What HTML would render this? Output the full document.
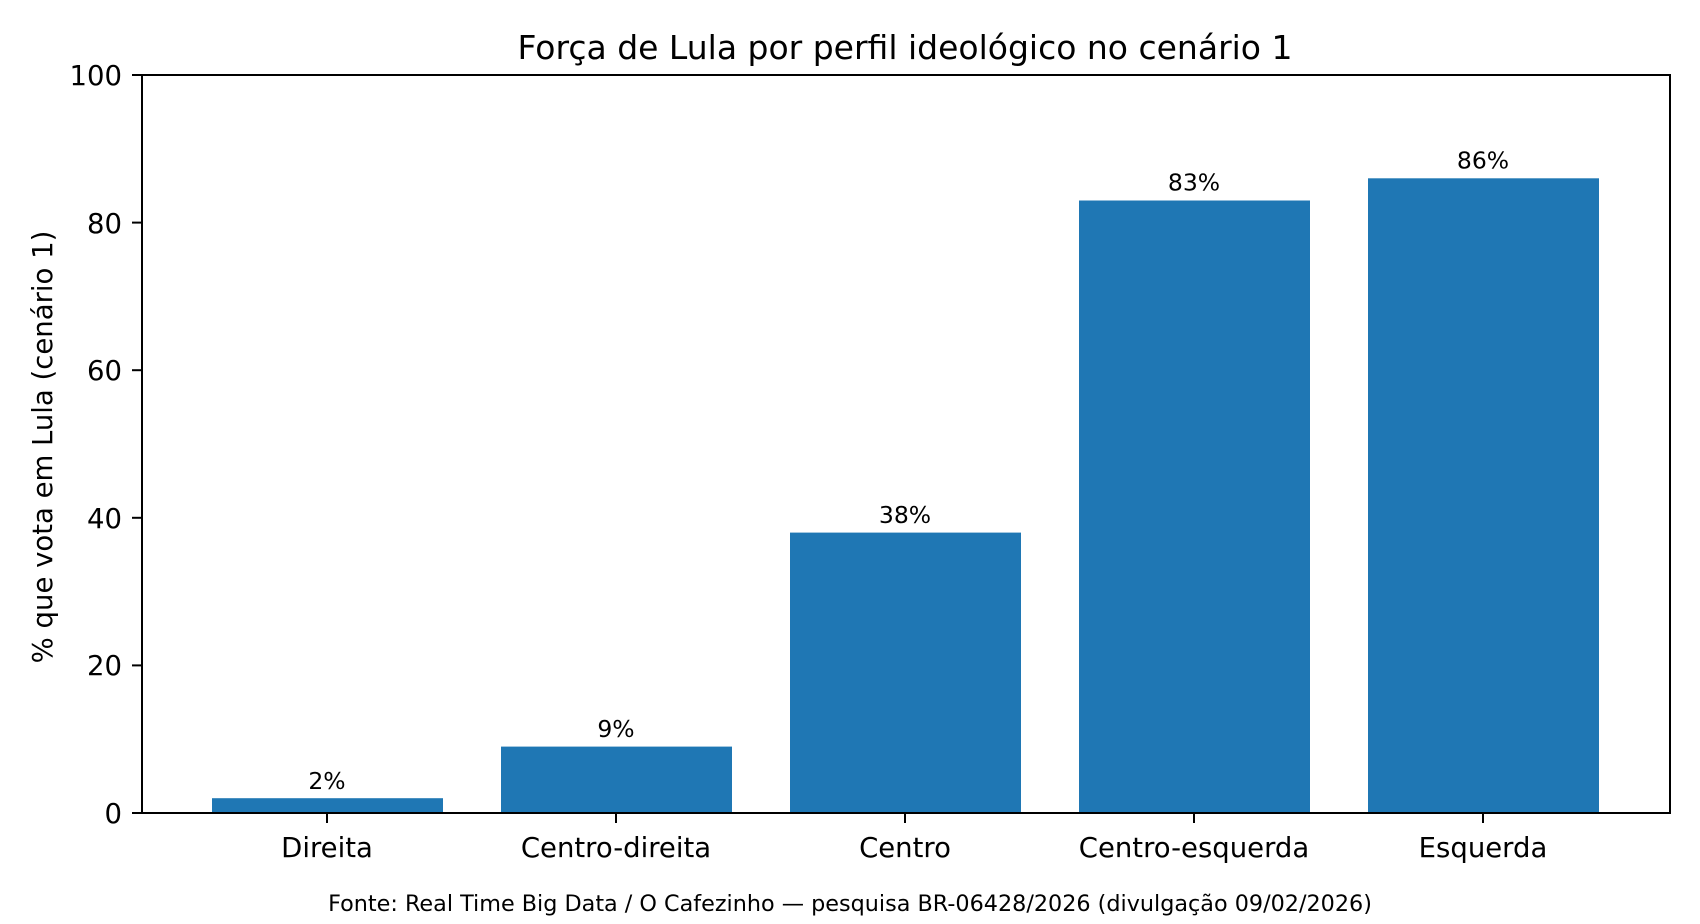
<!DOCTYPE html>
<html><head><meta charset="utf-8"><style>body{margin:0;background:#fff}</style></head><body>
<svg width="1700" height="919" xmlns="http://www.w3.org/2000/svg" font-family="DejaVu Sans, Liberation Sans, sans-serif">
<rect width="1700" height="919" fill="#fff"/>
<g fill="#1f77b4">
<rect x="212" y="798.2" width="231" height="14.8"/>
<rect x="501" y="746.6" width="231" height="66.4"/>
<rect x="790" y="532.6" width="231" height="280.4"/>
<rect x="1079" y="200.5" width="231" height="612.5"/>
<rect x="1368" y="178.3" width="231" height="634.7"/>
</g>
<g font-size="23.5" text-anchor="middle" fill="#000">
<text x="327" y="789">2%</text>
<text x="616" y="737">9%</text>
<text x="905" y="523">38%</text>
<text x="1194" y="190.5">83%</text>
<text x="1483" y="168.5">86%</text>
</g>
<rect x="142" y="75" width="1528" height="738" fill="none" stroke="#000" stroke-width="2"/>
<g stroke="#000" stroke-width="2">
<line x1="132" y1="813" x2="142" y2="813"/><line x1="132" y1="665.4" x2="142" y2="665.4"/>
<line x1="132" y1="517.8" x2="142" y2="517.8"/><line x1="132" y1="370.2" x2="142" y2="370.2"/>
<line x1="132" y1="222.6" x2="142" y2="222.6"/><line x1="132" y1="75" x2="142" y2="75"/>
<line x1="327" y1="813" x2="327" y2="823"/><line x1="616" y1="813" x2="616" y2="823"/>
<line x1="905" y1="813" x2="905" y2="823"/><line x1="1194" y1="813" x2="1194" y2="823"/>
<line x1="1483" y1="813" x2="1483" y2="823"/>
</g>
<g font-size="27.5" text-anchor="end" fill="#000">
<text x="122" y="823">0</text><text x="122" y="675">20</text><text x="122" y="528">40</text>
<text x="122" y="380">60</text><text x="122" y="233">80</text><text x="122" y="85">100</text>
</g>
<g font-size="27.5" text-anchor="middle" fill="#000">
<text x="327" y="857">Direita</text><text x="616" y="857">Centro-direita</text>
<text x="905" y="857">Centro</text><text x="1194" y="857">Centro-esquerda</text>
<text x="1483" y="857">Esquerda</text>
</g>
<text x="905" y="59" font-size="33" text-anchor="middle">Força de Lula por perfil ideológico no cenário 1</text>
<text transform="translate(52,447) rotate(-90)" font-size="27.5" text-anchor="middle">% que vota em Lula (cenário 1)</text>
<text x="850" y="911" font-size="22.3" text-anchor="middle">Fonte: Real Time Big Data / O Cafezinho — pesquisa BR-06428/2026 (divulgação 09/02/2026)</text>
</svg>
</body></html>
